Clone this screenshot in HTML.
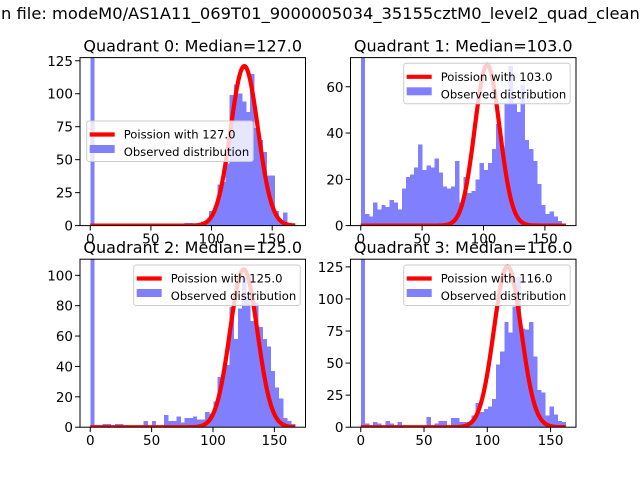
<!DOCTYPE html>
<html><head><meta charset="utf-8"><style>
body{margin:0;background:#fff;}
svg{display:block;font-family:"DejaVu Sans","Liberation Sans",sans-serif;}
</style></head><body>
<svg id="fig" width="640" height="480" viewBox="0 0 640 480">
<rect width="640" height="480" fill="#fff"/>
<text id="sup" x="0" y="19" font-size="16.3">Histograms in file: modeM0/AS1A11_069T01_9000005034_35155cztM0_level2_quad_clean.evt</text>
</svg>
<script>
const medians = [127, 103, 125, 116];
const peaks = [121, 69.5, 104, 125.5];
const ranges = [169, 167, 167, 162];
const ymaxs = [127.4, 72.6, 110.6, 131];
const yticks0 = [0, 25, 50, 75, 100, 125];
const yticks1 = [0, 20, 40, 60];
const yticks2 = [0, 20, 40, 60, 80, 100];
const yticks3 = [0, 25, 50, 75, 100, 125];
const xticks = [0, 50, 100, 150];
const counts0 = [300,0,0,0,0,0,0,0,0,0,0,0,0,0,0,0,0,0,1,1,1,1,1,2,2,1,1,3,4,11,15,31,33,47,99,107,100,94,86,115,74,65,56,38,38,11,4,10,2,0];
const counts1 = [300,5,4,10,7,9,8,11,10,7,16,21,22,25,35,24,26,25,29,23,17,16,17,28,10,21,14,15,20,27,24,27,33,44,33,53,69,53,49,61,37,33,28,18,9,5,6,4,2,1];
const counts2 = [300,0,0,2,2,0,2,2,0,0,1,0,1,4,0,4,0,1,8,4,4,7,3,6,6,7,5,5,10,9,17,33,37,41,79,58,78,99,86,70,82,66,58,53,37,26,19,6,4,2];
const counts3 = [300,3,0,4,3,0,5,3,0,4,0,0,0,0,0,0,8,0,3,5,5,0,7,7,4,4,4,9,19,12,14,16,22,49,59,82,74,94,117,77,76,82,55,29,27,9,16,10,5,4];
const countsAll = [counts0, counts1, counts2, counts3];
const yticksAll = [yticks0, yticks1, yticks2, yticks3];
const boxes = [[80,57.6],[350.5,57.6],[80,259.2],[350.5,259.2]];
const W = 225.5, H = 168;
const legendPos = [[86.7,121],[403.7,63.3],[133.7,265],[403.7,265]];
const NS = 'http://www.w3.org/2000/svg';
const fig = document.getElementById('fig');
try{const sup=document.getElementById('sup');const w=sup.getSubStringLength(0,12);sup.setAttribute('x',(-w+1).toFixed(1));}catch(e){document.getElementById('sup').setAttribute('x','-100');}
function mk(tag, attrs, parent){const e=document.createElementNS(NS,tag);for(const k in attrs)e.setAttribute(k,attrs[k]);(parent||fig).appendChild(e);return e;}
for (let q=0;q<4;q++){
  const [x0,y0]=boxes[q];
  const R=ranges[q], xmin=-0.05*R, xmax=1.05*R, ymax=ymaxs[q];
  const sx=v=>x0+(v-xmin)/(xmax-xmin)*W;
  const sy=v=>y0+H-v/ymax*H;
  const g=mk('g',{});
  
  
  const cid='clip'+q;
  const cp=mk('clipPath',{id:cid},g); mk('rect',{x:x0,y:y0,width:W,height:H},cp);
  const plot=mk('g',{'clip-path':'url(#'+cid+')'},g);
  const counts=countsAll[q], bw=R/counts.length;
  counts.forEach((c,i)=>{
    const r=mk('rect',{x:sx(i*bw),y:sy(c),width:sx((i+1)*bw)-sx(i*bw)+0.3,height:sy(0)-sy(c),fill:'#8080ff','shape-rendering':'crispEdges'},plot);
    
    
  });
  let d='';
  for(let k=0;k<=R;k+=1){const v=peaks[q]*Math.exp(-Math.pow(k-medians[q],2)/(2*medians[q]));d+=(k?'L':'M')+sx(k).toFixed(2)+','+sy(v).toFixed(2);}
  const p=mk('path',{d:d,fill:'none',stroke:'#ff0000','stroke-width':4.2,'stroke-linejoin':'round'},plot);
  
  
  mk('rect',{x:x0,y:y0,width:W,height:H,fill:'none',stroke:'#000','stroke-width':1},g);
  xticks.forEach(t=>{const X=sx(t);mk('line',{x1:X,x2:X,y1:y0+H,y2:y0+H+4.9,stroke:'#000'},g);
    const tx=mk('text',{x:X,y:y0+H+18,'font-size':13.5,'text-anchor':'middle'},g);tx.textContent=t;
    
    });
  yticksAll[q].forEach(t=>{const Y=sy(t);mk('line',{x1:x0-4.9,x2:x0,y1:Y,y2:Y,stroke:'#000'},g);
    const tx=mk('text',{x:x0-7,y:Y+5,'font-size':13.5,'text-anchor':'end'},g);tx.textContent=t;
    
    });
  const tt=mk('text',{x:x0+W/2,y:y0-6,'font-size':16,'text-anchor':'middle'},g);
  tt.textContent='Quadrant '+q+': Median='+medians[q].toFixed(1);
  
  
  const [lx,ly]=legendPos[q];
  const lg=mk('g',{},g);
  
  
  mk('rect',{x:lx,y:ly,width:166.5,height:40.5,rx:2.5,fill:'#fff','fill-opacity':0.8,stroke:'#cccccc'},lg);
  mk('line',{x1:lx+3,x2:lx+28,y1:ly+13.5,y2:ly+13.5,stroke:'#ff0000','stroke-width':4.2},lg);
  mk('rect',{x:lx+3,y:ly+24,width:25,height:8,fill:'#8080ff'},lg);
  const t1=mk('text',{x:lx+37,y:ly+17.5,'font-size':11.6},lg);t1.textContent='Poission with '+medians[q].toFixed(1);
  
  
  const t2=mk('text',{x:lx+37,y:ly+35,'font-size':11.6},lg);t2.textContent='Observed distribution';
  
  
}
</script>
</body></html>
